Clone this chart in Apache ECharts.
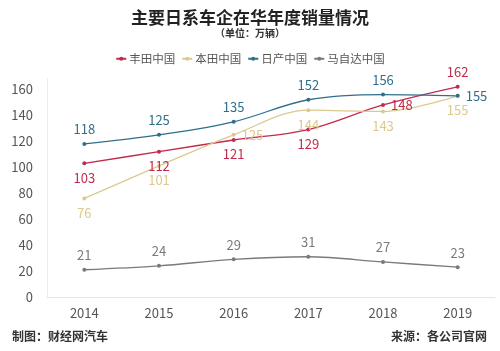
<!DOCTYPE html>
<html>
<head>
<meta charset="utf-8">
<script src="https://cdn.jsdelivr.net/npm/echarts@6/dist/echarts.min.js"></script>
<style>
  html, body { margin: 0; padding: 0; background: #fff; }
  #chart { width: 500px; height: 351px; }
</style>
</head>
<body>
<div id="chart"></div>
<script>
const years = ["2014", "2015", "2016", "2017", "2018", "2019"];
const toyota = [103, 112, 121, 129, 148, 162];
const honda = [76, 101, 125, 144, 143, 155];
const nissan = [118, 125, 135, 152, 156, 155];
const mazda = [21, 24, 29, 31, 27, 23];

const toyotaPos = ["bottom", "bottom", "bottom", "bottom", "right", "top"];
const hondaPos = ["bottom", "bottom", "right", "bottom", "bottom", "bottom"];
const nissanPos = ["top", "top", "top", "top", "top", "right"];

const font = "'Noto Sans CJK SC', 'Noto Sans', sans-serif";

function withPos(values, pos) {
  return values.map((v, i) => ({ value: v, label: { position: pos[i] } }));
}

let myChart = echarts.init(document.getElementById("chart"));

function lineSeries(name, color, data) {
  return {
    name: name,
    type: "line",
    smooth: 0.35,
    clip: false,
    symbol: "circle",
    symbolSize: 4,
    lineStyle: { color: color, width: 1.3 },
    itemStyle: { color: color },
    label: {
      show: true,
      color: color,
      fontSize: 13,
      fontFamily: font,
      distance: 6,
    },
    data: data,
  };
}

let option = {
  animation: false,
  textStyle: { fontFamily: font },
  title: [
    {
      text: "主要日系车企在华年度销量情况",
      left: "center",
      top: 4,
      textStyle: { fontSize: 17, fontWeight: "bold", color: "#222", fontFamily: font },
    },
    {
      text: "（单位：万辆）",
      left: "center",
      top: 23,
      textStyle: { fontSize: 10, fontWeight: "bold", color: "#333", fontFamily: font },
    },
    {
      text: "制图：财经网汽车",
      left: 7,
      top: 325,
      textStyle: { fontSize: 12, fontWeight: "bold", color: "#333", fontFamily: font },
    },
    {
      text: "来源：各公司官网",
      right: 8,
      top: 325,
      textStyle: { fontSize: 12, fontWeight: "bold", color: "#333", fontFamily: font },
    },
  ],
  legend: {
    top: 48,
    left: "center",
    itemWidth: 10,
    itemHeight: 5,
    itemGap: 6,
    textStyle: { fontSize: 11.5, color: "#555", fontFamily: font, padding: [0, 0, 0, -2] },
    data: ["丰田中国", "本田中国", "日产中国", "马自达中国"],
  },
  grid: {
    left: 47,
    right: 5,
    top: 79,
    bottom: 54,
  },
  xAxis: {
    type: "category",
    data: years,
    axisTick: { show: false },
    axisLine: { lineStyle: { color: "#e6e6e6" } },
    axisLabel: { color: "#555", fontSize: 13, margin: 10, fontFamily: font },
  },
  yAxis: {
    type: "value",
    min: 0,
    max: 168,
    interval: 20,
    axisLine: { show: true, lineStyle: { color: "#ececec" } },
    axisTick: { show: false },
    splitLine: { show: false },
    axisLabel: { color: "#555", fontSize: 13, margin: 14, showMaxLabel: false, fontFamily: font },
  },
  series: [
    lineSeries("丰田中国", "#c22a4c", withPos(toyota, toyotaPos)),
    lineSeries("本田中国", "#dcc98e", withPos(honda, hondaPos)),
    lineSeries("日产中国", "#2f6f8c", withPos(nissan, nissanPos)),
    lineSeries("马自达中国", "#7a7a7a", mazda.map(v => ({ value: v, label: { position: "top" } }))),
  ],
};
myChart.setOption(option);
</script>
</body>
</html>
